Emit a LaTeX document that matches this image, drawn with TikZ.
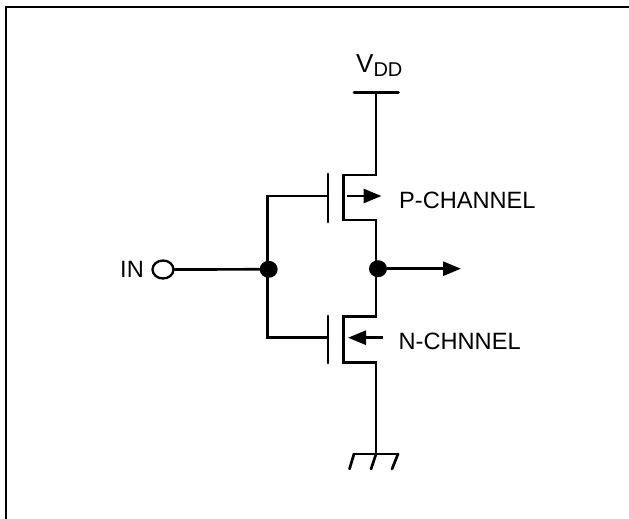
\documentclass[tikz,border=0pt]{standalone}
\usepackage{fontspec}
\setmainfont{Liberation Sans}
\usetikzlibrary{arrows.meta,shapes.geometric}
\tikzset{
  wire/.style={line width=2.7pt,line cap=round,line join=miter},
  frameline/.style={line width=2.4pt},
  dotnode/.style={ellipse,fill=black,draw=none,inner sep=0pt,minimum width=18pt,minimum height=17pt},
  pin/.style={ellipse,draw=black,line width=2.3pt,fill=white,inner sep=0pt,minimum width=21pt,minimum height=18pt},
  arr/.style={line width=2.7pt,-{Triangle[length=18pt,width=14pt]}},
  lbl/.style={inner sep=0pt,anchor=base west,font=\fontsize{23.6}{24}\selectfont},
}
\begin{document}
\begin{tikzpicture}[x=1pt,y=-1pt]
\useasboundingbox (0,0) rectangle (629,519);
\fill[white] (0,0) rectangle (629,519);
% frame
\coordinate (fa) at (6,519);
\coordinate (fb) at (6,7);
\coordinate (fc) at (629,7);
\draw[frameline] (fa) -- (fb) -- (fc);
% supply
\coordinate (vl) at (354,92.5);
\coordinate (vr) at (398.5,92.5);
\coordinate (vm) at (376,92.5);
\draw[wire] (vl) -- (vr);
\node[lbl] (vdd) at (356,73) {\fontsize{26}{26}\selectfont V\raisebox{-4pt}{\fontsize{20}{20}\selectfont DD}};
% output node & input node
\node[dotnode] (nout) at (378,268.7) {};
\node[dotnode] (nin) at (268.7,269.3) {};
\node[pin] (pinin) at (163,269.5) {};
\node[lbl] (inlbl) at (120,277) {IN};
\node[lbl] (pch) at (399,208) {P-CHANNEL};
\node[lbl] (nch) at (398.5,349) {N-CHNNEL};
% P transistor
\coordinate (pd1) at (376,175);
\coordinate (pc1) at (343.7,175);
\coordinate (pc2) at (343.7,220);
\coordinate (pd2) at (376,220);
\draw[wire] (vm) -- (pd1) -- (pc1) -- (pc2) -- (pd2) -- (376,268.7);
\coordinate (pgt) at (328,174);
\coordinate (pgb) at (328,222);
\coordinate (pg) at (328,196);
\draw[wire] (pgt) -- (pgb);
\coordinate (pa1) at (347,196);
\coordinate (pa2) at (381.5,196);
\draw[arr] (pa1) -- (pa2);
% N transistor
\coordinate (nd1) at (376,316.7);
\coordinate (nc1) at (343.7,316.7);
\coordinate (nc2) at (343.7,362.7);
\coordinate (nd2) at (376,362.7);
\coordinate (gm) at (376,454);
\draw[wire] (376,268.7) -- (nd1) -- (nc1) -- (nc2) -- (nd2) -- (gm);
\coordinate (ngt) at (328,316);
\coordinate (ngb) at (328,363);
\coordinate (ng) at (328,337.7);
\draw[wire] (ngt) -- (ngb);
\coordinate (na1) at (382.5,337.7);
\coordinate (na2) at (348,337.7);
\draw[arr] (na1) -- (na2);
% gate rail
\coordinate (rt) at (267.5,196);
\coordinate (rb) at (267.5,337.7);
\draw[wire] (pg) -- (rt) -- (rb) -- (ng);
\draw[wire] (pinin) -- (nin);
% output arrow
\coordinate (oa) at (461,268.7);
\draw[arr] (nout) -- (oa);
% ground
\coordinate (gl) at (354,454);
\coordinate (gr) at (398,454);
\coordinate (gl2) at (349.5,469);
\coordinate (gm2) at (371,469);
\coordinate (gr2) at (392,469);
\draw[wire] (gl) -- (gr);
\draw[wire] (gl) -- (gl2);
\draw[wire] (gm) -- (gm2);
\draw[wire] (gr) -- (gr2);
\end{tikzpicture}
\end{document}
